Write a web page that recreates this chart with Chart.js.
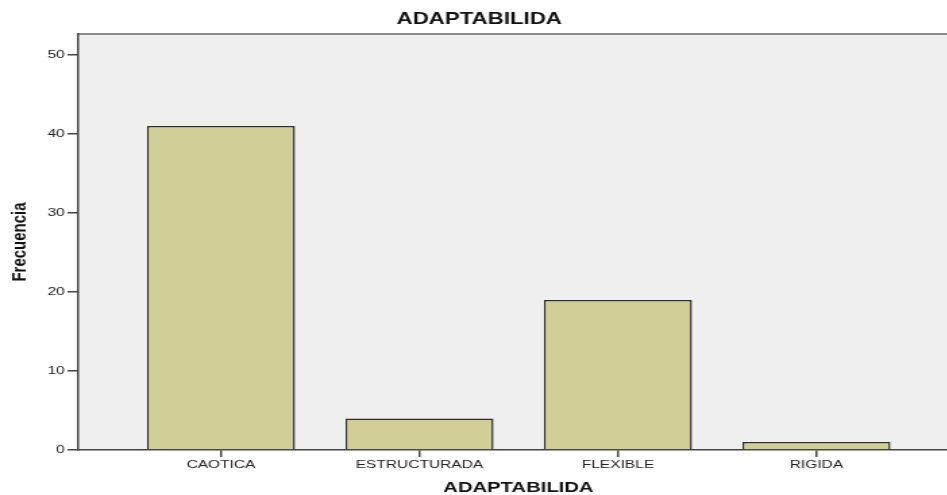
<!DOCTYPE html>
<html>
<head>
<meta charset="utf-8">
<script src="https://cdn.jsdelivr.net/npm/chart.js@4/dist/chart.umd.min.js"></script>
<style>
html, body { margin: 0; padding: 0; background: #fff; overflow: hidden; width: 947px; height: 495px; }
#wrap { position: absolute; left: 0; top: 0; width: 710px; height: 495px; transform: scaleX(1.35); transform-origin: 0 0; }
</style>
</head>
<body>
<div id="wrap"><canvas id="chart"></canvas></div>
<script>
// datos
var categorias = ['CAOTICA', 'ESTRUCTURADA', 'FLEXIBLE', 'RIGIDA'];
var frecuencias = [41, 4, 19, 1];
var yTicks = [0, 10, 20, 30, 40, 50];

var puntos = [];
for (var i = 0; i < categorias.length; i++) {
    puntos.push({x: i + 1, y: frecuencias[i]});
}

// fondo gris del area de trazado + borde superior
var fondoPlot = {
    id: 'fondoPlot',
    beforeDraw: function(chart) {
        var a = chart.chartArea, ctx = chart.ctx;
        ctx.save();
        ctx.fillStyle = '#efefef';
        ctx.fillRect(a.left, a.top, a.right - a.left, a.bottom - a.top);
        ctx.strokeStyle = '#8a8a8a';
        ctx.lineWidth = 2;
        ctx.beginPath();
        ctx.moveTo(a.left, a.top);
        ctx.lineTo(a.right, a.top);
        ctx.stroke();
        ctx.restore();
    }
};

var ctx = document.getElementById('chart').getContext('2d');
var chart = new Chart(ctx, {
    type: 'bar',
    data: {
        datasets: [{
            label: 'Frecuencia',
            data: puntos,
            backgroundColor: '#d2ce98',
            borderColor: '#2e2e2e',
            borderWidth: 1.5,
            categoryPercentage: 1,
            barPercentage: 0.746
        }]
    },
    options: {
        responsive: true,
        maintainAspectRatio: false,
        animation: false,
        layout: { padding: 0 },
        plugins: {
            legend: { display: false },
            tooltip: { enabled: false },
            title: {
                display: true,
                text: 'ADAPTABILIDA',
                color: '#111',
                font: { family: 'Liberation Sans, Arial, sans-serif', size: 16.5, weight: 'bold' },
                padding: { top: 10, bottom: 4.2 }
            }
        },
        scales: {
            x: {
                type: 'linear',
                min: 0.281,
                max: 4.716,
                offset: false,
                afterBuildTicks: function(scale) {
                    scale.ticks = categorias.map(function(c, i) { return {value: i + 1}; });
                },
                afterFit: function(scale) { scale.height = 45; },
                border: { display: true, color: '#444', width: 1.5 },
                grid: { offset: false, drawOnChartArea: false, drawTicks: true, tickLength: 7, color: '#444', lineWidth: 1.5 },
                ticks: {
                    autoSkip: false,
                    maxRotation: 0,
                    padding: 1,
                    color: '#222',
                    font: { family: 'Liberation Sans, Arial, sans-serif', size: 11.5 },
                    callback: function(v) { return categorias[Math.round(v) - 1]; }
                },
                title: {
                    display: true,
                    text: 'ADAPTABILIDA',
                    color: '#111',
                    font: { family: 'Liberation Sans, Arial, sans-serif', size: 15, weight: 'bold', lineHeight: 1 },
                    padding: { top: 0, bottom: 0 }
                }
            },
            y: {
                min: 0,
                max: 52.66,
                afterBuildTicks: function(scale) {
                    scale.ticks = yTicks.map(function(v) { return {value: v}; });
                },
                afterFit: function(scale) { scale.width = 58; },
                border: { display: true, color: '#444', width: 1.5 },
                grid: { drawOnChartArea: false, drawTicks: true, tickLength: 8, color: '#444', lineWidth: 1.5 },
                ticks: {
                    padding: 2,
                    color: '#222',
                    font: { family: 'Liberation Sans, Arial, sans-serif', size: 11.5 }
                },
                title: {
                    display: true,
                    text: 'Frecuencia',
                    color: '#111',
                    font: { family: 'Liberation Sans, Arial, sans-serif', size: 15, weight: 'bold' },
                    padding: { top: 6, bottom: 0 }
                }
            }
        }
    },
    plugins: [fondoPlot]
});
</script>
</body>
</html>
